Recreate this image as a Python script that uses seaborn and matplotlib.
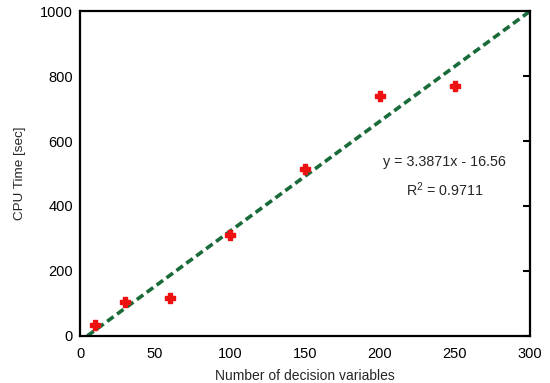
import numpy as np
import matplotlib
matplotlib.use('Agg')
import matplotlib.pyplot as plt
import seaborn as sns
import pandas as pd

# %% Dados
num_variaveis = [10, 30, 60, 100, 150, 200, 250]
cpu_tempo = [33, 105, 117, 310, 515, 740, 768]
inclinacao = 3.3871
intercepto = -16.56
r2 = 0.9711

df = pd.DataFrame({'x': num_variaveis, 'y': cpu_tempo})

# %% Estilo
sns.set_style('white')
plt.rcParams['font.family'] = ['Liberation Sans', 'DejaVu Sans']

fig = plt.figure(figsize=(5.5, 3.83), dpi=100)
ax = fig.add_axes([0.1455, 0.123, 0.818, 0.848])

# linha de tendencia (da equação do gráfico)
x0 = -intercepto / inclinacao
linha = pd.DataFrame({'x': [x0, 300], 'y': [0, inclinacao * 300 + intercepto]})
sns.lineplot(data=linha, x='x', y='y', ax=ax, color='#1a6b3a', lw=2.6,
             linestyle=(0, (2.2, 1.2)), zorder=2)

# pontos
sns.scatterplot(data=df, x='x', y='y', ax=ax, marker='P', s=42,
                color='#ee1111', edgecolor='#ee1111', linewidth=1.0, zorder=3)

ax.set_xlim(0, 300)
ax.set_ylim(0, 1000)
ax.set_xticks([0, 50, 100, 150, 200, 250, 300])
ax.set_yticks([0, 200, 400, 600, 800, 1000])
ax.tick_params(direction='in', length=5, width=1.5, labelsize=10.5,
               top=False, right=True, colors='black')
ax.tick_params(axis='x', pad=8)
ax.tick_params(axis='y', pad=5)
for s in ax.spines.values():
    s.set_linewidth(1.6)
    s.set_color('black')

ax.set_xlabel('Number of decision variables', fontsize=10, labelpad=6)
ax.set_ylabel('CPU Time [sec]', fontsize=9.7, labelpad=10)

ax.text(243, 535, 'y = 3.3871x - 16.56', fontsize=10.3, ha='center', va='center')
ax.text(243, 449, '$\\mathregular{R^2}$ = %.4f' % r2, fontsize=10.3,
        ha='center', va='center')

plt.savefig('out.png', dpi=100)
